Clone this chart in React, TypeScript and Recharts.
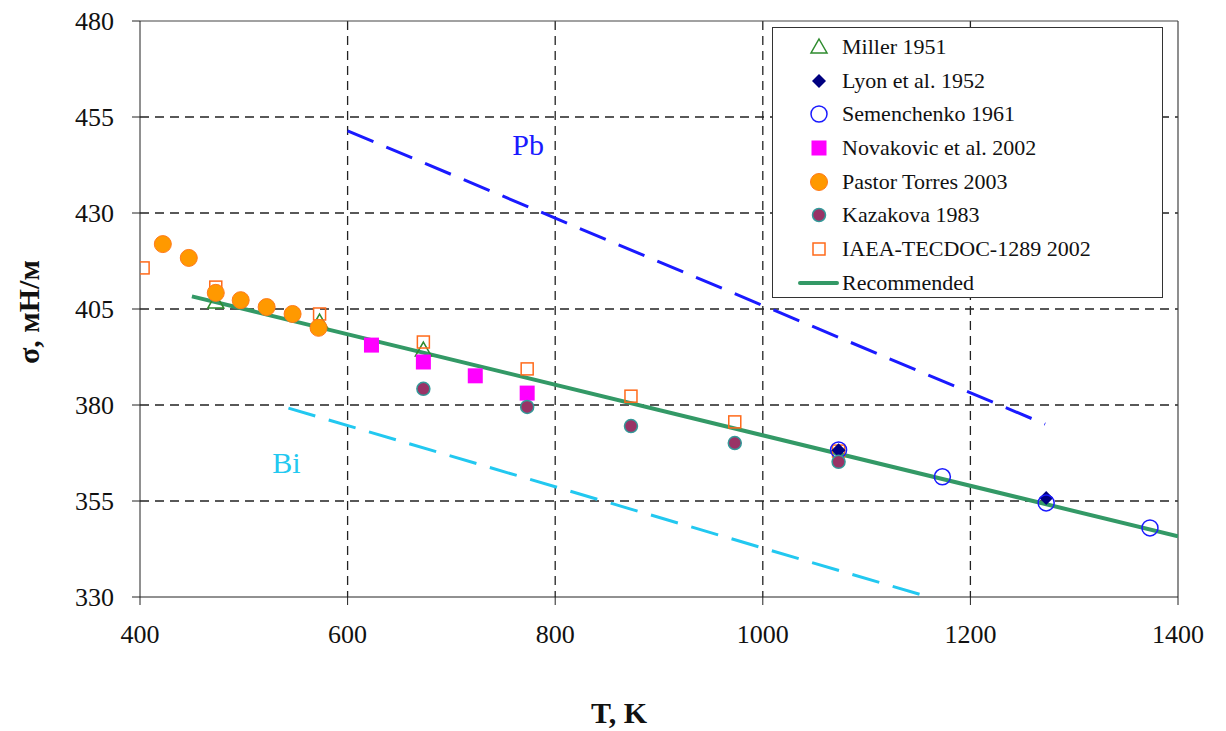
import React from "react";
import {
  ComposedChart,
  Scatter,
  XAxis,
  YAxis,
  CartesianGrid,
  ReferenceLine,
  ReferenceDot,
} from "recharts";

// readings taken off the figure (T in K, sigma in mN/m)
const miller = [
  { x: 473, y: 406.8 },
  { x: 573, y: 401.6 },
  { x: 673, y: 394.3 },
];
const lyon = [
  { x: 1073, y: 368.2 },
  { x: 1273, y: 355.8 },
];
const semenchenko = [
  { x: 1073, y: 368.3 },
  { x: 1173, y: 361.3 },
  { x: 1273, y: 354.5 },
  { x: 1373, y: 348.0 },
];
const novakovic = [
  { x: 623, y: 395.6 },
  { x: 673, y: 391.2 },
  { x: 723, y: 387.6 },
  { x: 773, y: 383.1 },
];
const pastorTorres = [
  { x: 422, y: 421.9 },
  { x: 447, y: 418.3 },
  { x: 473, y: 409.2 },
  { x: 497, y: 407.3 },
  { x: 522, y: 405.5 },
  { x: 547, y: 403.7 },
  { x: 572, y: 400.1 },
];
const kazakova = [
  { x: 673, y: 384.2 },
  { x: 773, y: 379.5 },
  { x: 873, y: 374.5 },
  { x: 973, y: 370.1 },
  { x: 1073, y: 365.2 },
];
const iaea = [
  { x: 403, y: 415.7 },
  { x: 473, y: 410.7 },
  { x: 573, y: 403.7 },
  { x: 673, y: 396.4 },
  { x: 773, y: 389.4 },
  { x: 873, y: 382.3 },
  { x: 973, y: 375.6 },
  { x: 1073, y: 368.0 },
];
const recommended = [
  { x: 450, y: 408.3 },
  { x: 1400, y: 345.8 },
];
const pbLine = [
  { x: 600, y: 451.4 },
  { x: 1272, y: 375.0 },
];
const biLine = [
  { x: 543, y: 379.2 },
  { x: 1195, y: 327.2 },
];

const xTicks = [400, 600, 800, 1000, 1200, 1400];
const yTicks = [330, 355, 380, 405, 430, 455, 480];

const FONT = "Liberation Serif, DejaVu Serif, serif";

const Triangle = ({ cx, cy }: any) => (
  <path
    d={`M${cx},${cy - 8} L${cx + 8},${cy + 6} L${cx - 8},${cy + 6} Z`}
    fill="none"
    stroke="#2e8b2e"
    strokeWidth={1.5}
  />
);
const Diamond = ({ cx, cy }: any) => (
  <path
    d={`M${cx},${cy - 7} L${cx + 7},${cy} L${cx},${cy + 7} L${cx - 7},${cy} Z`}
    fill="#000080"
  />
);
const OpenCircle = ({ cx, cy }: any) => (
  <circle cx={cx} cy={cy} r={8} fill="none" stroke="#1a1aff" strokeWidth={1.5} />
);
const MagentaSquare = ({ cx, cy }: any) => (
  <rect x={cx - 7.5} y={cy - 7.5} width={15} height={15} fill="#ff00ff" />
);
const OrangeCircle = ({ cx, cy }: any) => (
  <circle cx={cx} cy={cy} r={8.5} fill="#ff9900" stroke="#ff7a1a" strokeWidth={1} />
);
const KazCircle = ({ cx, cy }: any) => (
  <circle cx={cx} cy={cy} r={6.5} fill="#993366" stroke="#339999" strokeWidth={1.5} />
);
const OpenSquare = ({ cx, cy }: any) => (
  <rect
    x={cx - 6}
    y={cy - 6}
    width={12}
    height={12}
    fill="#fff"
    fillOpacity={0}
    stroke="#ff6a1a"
    strokeWidth={1.5}
  />
);
const NoDot = () => <g />;

const legendRows = [
  { name: "Miller 1951", Icon: Triangle },
  { name: "Lyon et al. 1952", Icon: Diamond },
  { name: "Semenchenko 1961", Icon: OpenCircle },
  { name: "Novakovic et al. 2002", Icon: MagentaSquare },
  { name: "Pastor Torres 2003", Icon: OrangeCircle },
  { name: "Kazakova 1983", Icon: KazCircle },
  { name: "IAEA-TECDOC-1289 2002", Icon: OpenSquare },
  { name: "Recommended", Icon: null as any },
];

const LegendBox = () => (
  <div
    style={{
      position: "absolute",
      left: 772,
      top: 27,
      width: 391,
      height: 271,
      border: "1px solid #333",
      background: "#fff",
      boxSizing: "border-box",
      fontFamily: FONT,
      fontSize: 22,
      color: "#111",
      paddingTop: 2,
    }}
  >
    {legendRows.map(({ name, Icon }) => (
      <div
        key={name}
        style={{ height: 33.7, display: "flex", alignItems: "center" }}
      >
        <svg width={66} height={30} style={{ flexShrink: 0 }}>
          {Icon ? (
            <Icon cx={46} cy={15} />
          ) : (
            <line x1={27} y1={15} x2={64} y2={15} stroke="#339966" strokeWidth={4} strokeLinecap="round" />
          )}
        </svg>
        <span style={{ marginLeft: 3 }}>{name}</span>
      </div>
    ))}
  </div>
);

export default function App() {
  return (
    <div style={{ position: "absolute", left: 0, top: 0, width: 1226, height: 731, background: "#fff" }}>
      <ComposedChart
        width={1226}
        height={731}
        margin={{ top: 21, right: 48, left: 80, bottom: 94 }}
        style={{ fontFamily: FONT }}
      >
        <CartesianGrid
          stroke="#222"
          strokeDasharray="9 6"
          strokeWidth={1.3}
          horizontalValues={[355, 380, 405, 430, 455]}
          verticalValues={[600, 800, 1000, 1200]}
        />
        <XAxis
          type="number"
          dataKey="x"
          domain={[400, 1400]}
          ticks={xTicks}
          allowDataOverflow
          tickSize={8}
          tickMargin={20}
          stroke="#222"
          tick={{ fontFamily: FONT, fontSize: 26, fill: "#111" }}
          height={40}
          label={{
            value: "T, K",
            position: "insideBottom",
            offset: -86,
            dx: -40,
            style: { fontFamily: FONT, fontSize: 30, fontWeight: "bold", fill: "#111" },
          }}
        />
        <YAxis
          type="number"
          dataKey="y"
          domain={[330, 480]}
          ticks={yTicks}
          allowDataOverflow
          tickSize={8}
          tickMargin={18}
          stroke="#222"
          width={60}
          tick={{ fontFamily: FONT, fontSize: 26, fill: "#111" }}
          label={{
            value: "σ, мН/м",
            angle: -90,
            position: "insideLeft",
            offset: -52,
            dy: 55,
            style: { fontFamily: FONT, fontSize: 30, fontWeight: "bold", fill: "#111" },
          }}
        />
        <ReferenceLine y={480} stroke="#444" strokeWidth={1.2} />
        <ReferenceLine x={1400} stroke="#444" strokeWidth={1.2} />
        <Scatter
          name="Pb"
          data={pbLine}
          line={{ stroke: "#1a1aff", strokeWidth: 3, strokeDasharray: "28 14" }}
          lineType="joint"
          shape={NoDot}
          legendType="none"
          isAnimationActive={false}
        />
        <Scatter
          name="Bi"
          data={biLine}
          line={{ stroke: "#22c8f0", strokeWidth: 3, strokeDasharray: "28 14" }}
          lineType="joint"
          shape={NoDot}
          legendType="none"
          isAnimationActive={false}
        />
        <Scatter
          name="Recommended"
          data={recommended}
          line={{ stroke: "#339966", strokeWidth: 4 }}
          lineType="joint"
          shape={NoDot}
          isAnimationActive={false}
        />
        <Scatter name="Miller 1951" data={miller} shape={Triangle} isAnimationActive={false} />
        <Scatter name="IAEA-TECDOC-1289 2002" data={iaea} shape={OpenSquare} isAnimationActive={false} />
        <Scatter name="Lyon et al. 1952" data={lyon} shape={Diamond} isAnimationActive={false} />
        <Scatter name="Semenchenko 1961" data={semenchenko} shape={OpenCircle} isAnimationActive={false} />
        <Scatter name="Novakovic et al. 2002" data={novakovic} shape={MagentaSquare} isAnimationActive={false} />
        <Scatter name="Pastor Torres 2003" data={pastorTorres} shape={OrangeCircle} isAnimationActive={false} />
        <Scatter name="Kazakova 1983" data={kazakova} shape={KazCircle} isAnimationActive={false} />
        <ReferenceDot
          x={774}
          y={448}
          r={0}
          label={{ value: "Pb", style: { fontFamily: FONT, fontSize: 30, fill: "#1a1aff" } }}
        />
        <ReferenceDot
          x={541}
          y={365}
          r={0}
          label={{ value: "Bi", style: { fontFamily: FONT, fontSize: 30, fill: "#22c8f0" } }}
        />
      </ComposedChart>
      <LegendBox />
    </div>
  );
}
